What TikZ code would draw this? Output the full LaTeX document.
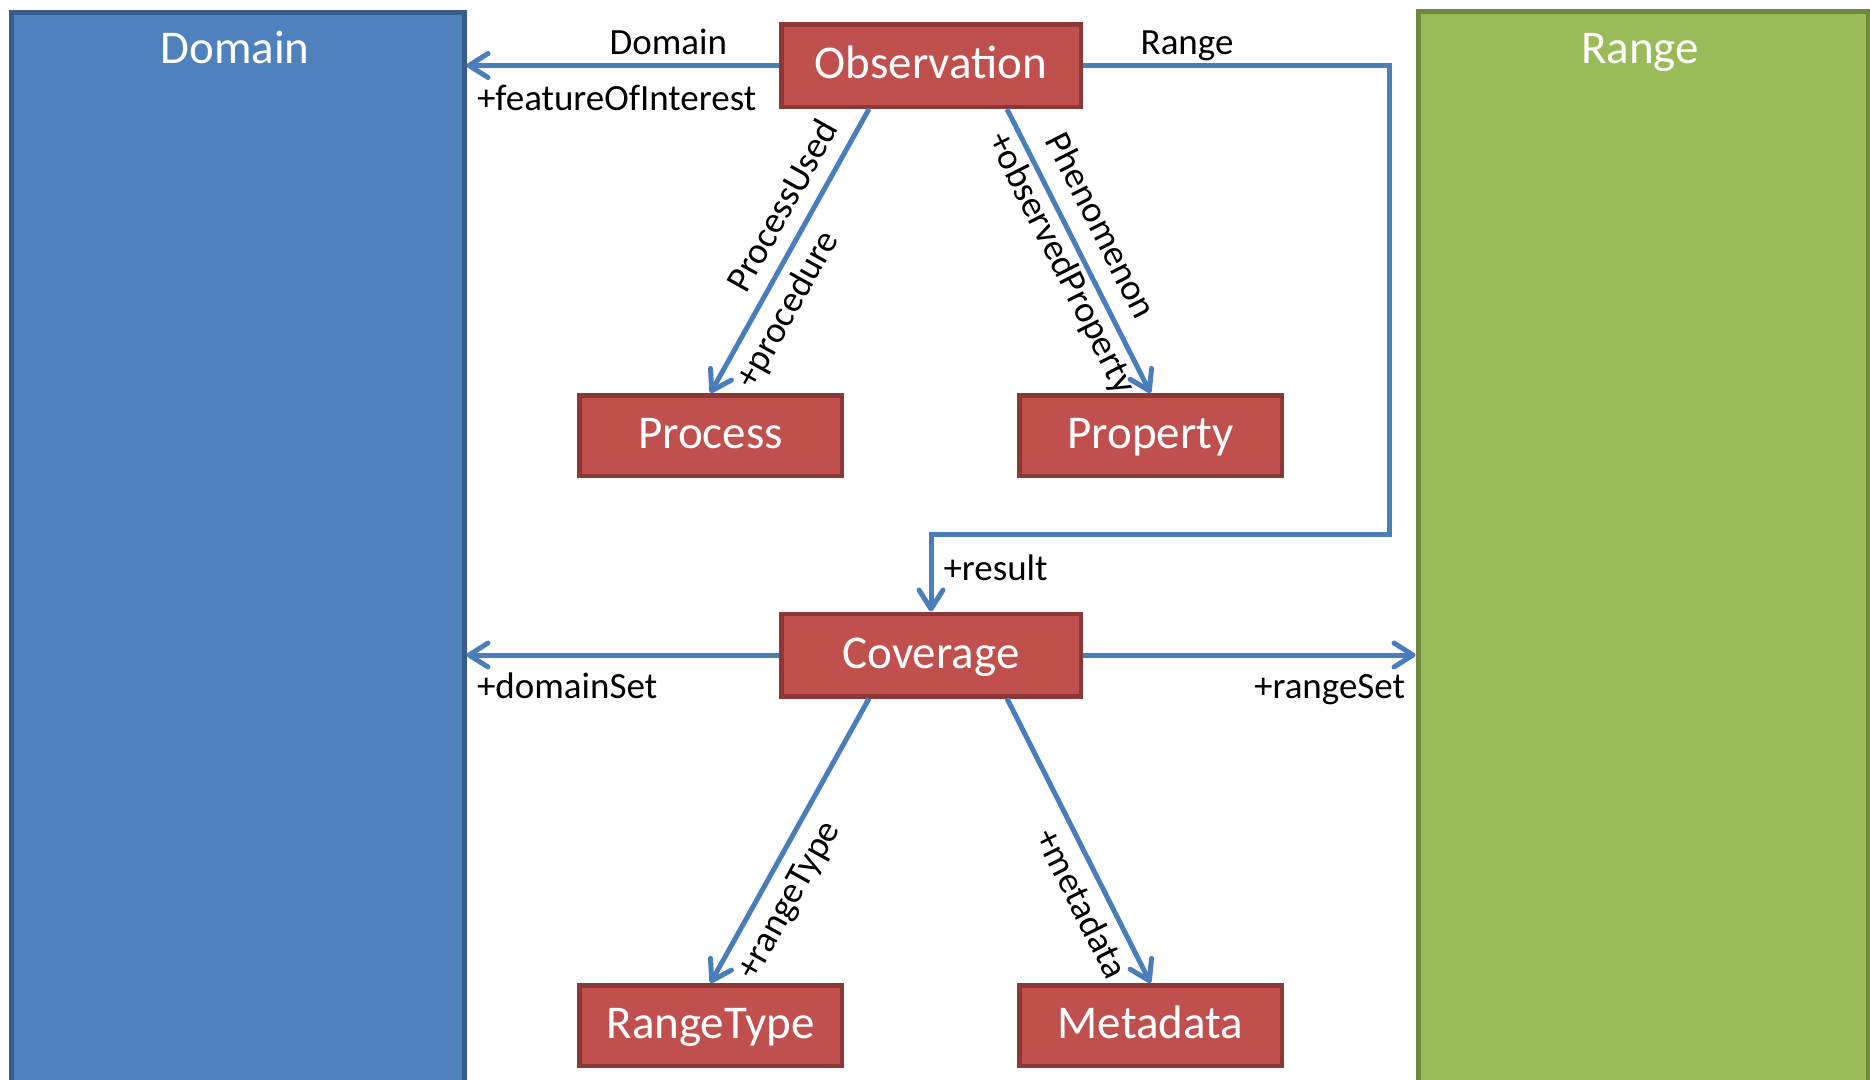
\documentclass[tikz,border=0pt]{standalone}
\usepackage{fontspec}
\setmainfont{Carlito}
\usetikzlibrary{arrows.meta,calc}

\definecolor{domfill}{HTML}{4F81BD}
\definecolor{domline}{HTML}{385D8A}
\definecolor{rngfill}{HTML}{9BBB59}
\definecolor{rngline}{HTML}{71893F}
\definecolor{clsfill}{HTML}{C0504D}
\definecolor{clsline}{HTML}{8C3836}
\definecolor{assoc}{HTML}{4A7EBB}

\begin{document}
\begin{tikzpicture}[x=1pt,y=-1pt,
  panel/.style={line width=5pt, inner sep=0pt, anchor=north west},
  paneltitle/.style={text=white, font=\fontsize{47}{56}\selectfont, anchor=base},
  cls/.style={draw=clsline, fill=clsfill, line width=4.5pt, inner sep=0pt,
    text=white, font=\fontsize{47}{56}\selectfont,
    text height=34pt, text depth=8pt},
  wide/.style={minimum width=299.5pt, minimum height=82.5pt},
  narrow/.style={minimum width=262.5pt, minimum height=80.5pt},
  assocline/.style={draw=assoc, line width=5pt,
    -{Straight Barb[length=19pt,width=24pt,round]}},
  lbl/.style={font=\fontsize{37}{44}\selectfont, text height=26pt,
    text depth=8pt, inner sep=2pt},
]
\useasboundingbox (0,0) rectangle (1870,1079);
\clip (0,0) rectangle (1870,1079);

% the two side panels
\node[panel, draw=domline, fill=domfill, minimum width=453pt,
  minimum height=1100pt] (dom) at (8.5,10) {};
\node[panel, draw=rngline, fill=rngfill, minimum width=450pt,
  minimum height=1100pt] (rng) at (1415.5,9) {};
\node[paneltitle] (domtitle) at (235,63) {Domain};
\node[paneltitle] (rngtitle) at (1640,63) {Range};

% classes
\node[cls, wide] (obs) at (931,65.5) {Observation};
\node[cls, narrow] (proc) at (710.5,435.5) {Process};
\node[cls, narrow] (prop) at (1150.5,435.5) {Property};
\node[cls, wide] (cov) at (931,655) {Coverage};
\node[cls, narrow] (rt) at (710.5,1025.5) {RangeType};
\node[cls, narrow] (md) at (1150.5,1025.5) {Metadata};

% associations of Observation
\draw[assocline] (obs.west)
  -- node[lbl, pos=0.354, anchor=base, yshift=11pt] (ldom) {Domain}
  (obs.west -| dom.east)
  node[lbl, anchor=base west, xshift=6pt, yshift=-44.5pt] (lfoi) {+featureOfInterest};

\draw[assocline] (obs.east)
  -- node[lbl, pos=0.34, anchor=base, yshift=11pt] (lrng) {Range} ++(306,0)
  |- ($(cov.north)+(0,-77)$) -- (cov.north)
  node[lbl, anchor=base west, xshift=8pt, yshift=31.5pt] (lres) {+result};

\draw[assocline] ([xshift=-62pt]obs.south)
  -- node[lbl, sloped, pos=0.39, anchor=south, inner ysep=6pt] (lpu) {ProcessUsed}
     node[lbl, sloped, pos=0.66, anchor=north, inner ysep=9pt] (lproc) {+procedure}
  (proc.north);

\draw[assocline] ([xshift=76pt]obs.south)
  -- node[lbl, sloped, pos=0.46, anchor=south, inner ysep=9pt] (lphen) {Phenomenon}
     node[lbl, sloped, pos=0.51, anchor=north, inner ysep=3pt] (lobsp) {+observedProperty}
  (prop.north);

% associations of Coverage
\draw[assocline] (cov.west) -- (cov.west -| dom.east)
  node[lbl, anchor=base west, xshift=6pt, yshift=-43pt] (ldset) {+domainSet};

\draw[assocline] (cov.east) -- (cov.east -| rng.west)
  node[lbl, anchor=base east, xshift=-6pt, yshift=-43pt] (lrset) {+rangeSet};

\draw[assocline] ([xshift=-62pt]cov.south)
  -- node[lbl, sloped, pos=0.66, anchor=north, inner ysep=10pt] (lrtype) {+rangeType}
  (rt.north);

\draw[assocline] ([xshift=76pt]cov.south)
  -- node[lbl, sloped, pos=0.68, anchor=north, inner ysep=9pt] (lmeta) {+metadata}
  (md.north);
\end{tikzpicture}
\end{document}
